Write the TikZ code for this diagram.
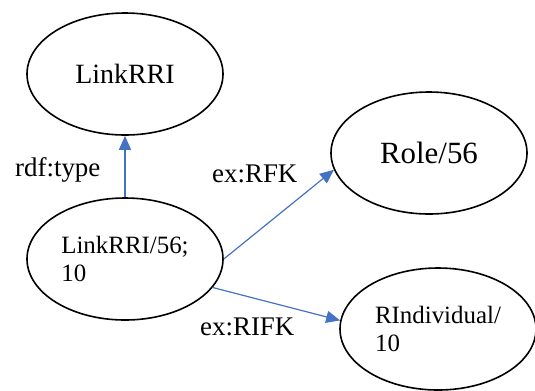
\documentclass[tikz,border=0pt]{standalone}
\usepackage{fontspec}
\setmainfont{Liberation Serif}
\usepackage{tikz}
\usetikzlibrary{shapes, arrows.meta, positioning}
\definecolor{linkblue}{HTML}{4472C4}

\begin{document}
\begin{tikzpicture}[
    x=1bp, y=-1bp,
    % Define styles for consistency
    entity/.style={draw, ellipse, line width=1.6bp, minimum width=196bp, minimum height=122bp,
        inner sep=0pt, align=left, font=\fontsize{25}{28}\selectfont},
    prop/.style={-{Triangle[length=14bp, width=12bp]}, line width=1.2bp, color=linkblue},
    prop_label/.style={anchor=base west, inner sep=0pt, font=\fontsize{27}{28}\selectfont}
]
    \useasboundingbox (0,0) rectangle (535,390);

    % ---------------------------------------------------------
    % 1. The resources
    % ---------------------------------------------------------
    \node[entity, font=\fontsize{28}{28}\selectfont] (cls) at (125,74) {LinkRRI};
    \node[entity] (inst) at (125,259) {LinkRRI/56;\\10};
    \node[entity, font=\fontsize{31}{34}\selectfont] (role) at (429,153) {Role/56};
    \node[entity] (rind) at (438,329) {RIndividual/\\10};

    % ---------------------------------------------------------
    % 2. The properties
    % ---------------------------------------------------------
    \draw[prop] (inst) -- (cls);
    \draw[prop] (inst.east) -- (role.190);
    \draw[prop] (inst.-18) -- (rind.175);

    % Property names
    \node[prop_label] (typelbl) at (15,176) {rdf:type};
    \node[prop_label] (rfklbl) at (212,182) {ex:RFK};
    \node[prop_label] (rifklbl) at (200,335) {ex:RIFK};
\end{tikzpicture}
\end{document}
